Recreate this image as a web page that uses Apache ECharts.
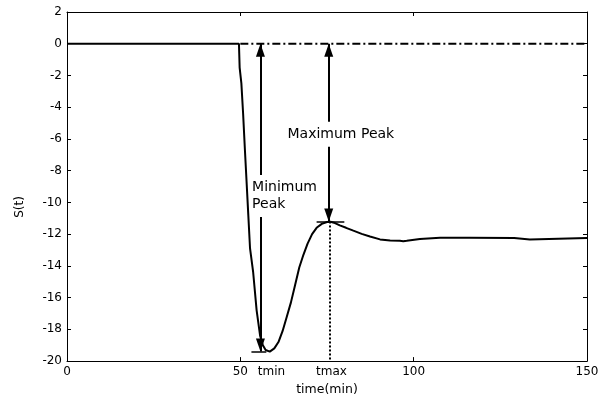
<!DOCTYPE html>
<html>
<head>
<meta charset="utf-8">
<script src="https://cdn.jsdelivr.net/npm/echarts@6/dist/echarts.min.js"></script>
<style>html,body{margin:0;padding:0;background:#fff}#c{width:609px;height:401px}</style>
</head>
<body>
<div id="c"></div>
<script>
// ---- data ----
const timeVals = [0, 49.6, 49.8, 50.3, 50.8, 51.3, 51.8, 52.3, 52.8, 53.7, 54.7, 55.7, 56.5, 57.3, 58.5, 59.8, 61.0, 62.2, 63.4, 64.6, 65.8, 67.0, 68.2, 69.4, 70.7, 72.0, 73.5, 75.0, 76.0, 77.3, 78.7, 80.5, 82.6, 85.0, 87.4, 90.3, 93.2, 96.0, 97.0, 98.0, 101.8, 107.6, 116, 129, 129.5, 133.5, 134, 150];
const sVals = [0, 0, -1.5, -2.5, -4.4, -6.6, -8.7, -10.8, -12.9, -14.4, -16.8, -18.4, -19.0, -19.3, -19.4, -19.2, -18.8, -18.1, -17.2, -16.3, -15.2, -14.1, -13.3, -12.6, -12.0, -11.6, -11.35, -11.23, -11.22, -11.3, -11.45, -11.6, -11.78, -11.98, -12.15, -12.33, -12.4, -12.42, -12.45, -12.42, -12.3, -12.23, -12.22, -12.24, -12.33, -12.33, -12.25, -12.25];
const zeroRef = [[50, 0], [150, 0]];
const minArrow = [[55.8, 0], [55.8, -19.4]];
const maxArrow = [[75.5, 0], [75.5, -11.2]];
const minBar = [[53.2, -19.4], [57.5, -19.4]];
const maxBar = [[72, -11.2], [80, -11.2]];
const tmaxDrop = [[75.7, -11.2], [75.7, -20]];
const peakTexts = [[79, -5.7, 'Maximum Peak'], [53.1, -9.6, 'Minimum\nPeak']];
const timeMarks = [[59, -20, 'tmin'], [76.3, -20, 'tmax']];
const xTicks = {min: 0, max: 150, step: 50};
const yTicks = {min: -20, max: 2, step: 2};

const FONT = 'DejaVu Sans';
const chart = echarts.init(document.getElementById('c'), null, {renderer: 'canvas'});
const axisCommon = {
  type: 'value',
  axisLine: {show: true, onZero: false, lineStyle: {color: '#000', width: 1}},
  axisTick: {show: true, inside: true, length: 4, lineStyle: {color: '#000'}},
  splitLine: {show: false}
};
const pair = (a, b) => a.map((v, i) => [v, b[i]]);
const arrowSym = {symbol: ['triangle', 'triangle'], symbolSize: [9, 13], symbolOffset: [[0, 6.5], [0, 6.5]]};
const plainText = {color: '#000', fontFamily: FONT, textBorderWidth: 0, textBorderColor: 'transparent', opacity: 1};

chart.setOption({
  animation: false,
  backgroundColor: '#fff',
  grid: {left: 67, right: 22, top: 12, bottom: 36},
  xAxis: [
    Object.assign({}, axisCommon, {position: 'bottom', min: xTicks.min, max: xTicks.max, interval: xTicks.step,
      axisLabel: {color: '#000', fontFamily: FONT, fontSize: 12, margin: 5},
      name: 'time(min)', nameLocation: 'middle', nameGap: 19,
      nameTextStyle: {color: '#000', fontFamily: FONT, fontSize: 12.5}}),
    Object.assign({}, axisCommon, {position: 'top', min: xTicks.min, max: xTicks.max, interval: xTicks.step,
      axisLabel: {show: false}})
  ],
  yAxis: [
    Object.assign({}, axisCommon, {position: 'left', min: yTicks.min, max: yTicks.max, interval: yTicks.step,
      axisLabel: {color: '#000', fontFamily: FONT, fontSize: 12, margin: 5}}),
    Object.assign({}, axisCommon, {position: 'right', min: yTicks.min, max: yTicks.max, interval: yTicks.step,
      axisLabel: {show: false}})
  ],
  graphic: [{
    type: 'text', x: 20, y: 207, rotation: Math.PI / 2,
    style: {text: 'S(t)', fill: '#000', font: '12px "DejaVu Sans"', align: 'center', verticalAlign: 'middle'}
  }],
  series: [
    {
      type: 'line', data: pair(timeVals, sVals), symbol: 'none', z: 3,
      lineStyle: {color: '#000', width: 2}
    },
    {
      type: 'line', data: zeroRef, symbol: 'none', z: 2,
      lineStyle: {color: '#000', width: 1.8, type: [8, 3, 2, 3]}
    },
    {
      type: 'line', data: [], z: 4,
      markLine: {
        silent: true, animation: false, label: {show: false},
        lineStyle: {color: '#000', width: 2, type: 'solid'},
        data: [
          [{coord: minArrow[0]}, {coord: minArrow[1]}],
          [{coord: maxArrow[0]}, {coord: maxArrow[1]}]
        ],
        symbol: arrowSym.symbol, symbolSize: arrowSym.symbolSize, symbolOffset: arrowSym.symbolOffset
      }
    },
    {
      type: 'line', data: [], z: 4,
      markLine: {
        silent: true, animation: false, label: {show: false}, symbol: ['none', 'none'],
        lineStyle: {color: '#000', width: 1.5, type: 'solid'},
        data: [
          [{coord: minBar[0]}, {coord: minBar[1]}],
          [{coord: maxBar[0]}, {coord: maxBar[1]}],
          [{coord: tmaxDrop[0], lineStyle: {type: [2, 2], width: 2}}, {coord: tmaxDrop[1]}]
        ]
      }
    },
    {
      type: 'scatter', z: 10, symbolSize: 1, itemStyle: {color: 'rgba(0,0,0,0)'},
      silent: true,
      data: peakTexts.map(p => ({value: [p[0], p[1]], name: p[2]})),
      label: Object.assign({
        show: true, position: 'inside', formatter: p => p.name,
        fontSize: 14, lineHeight: 17, backgroundColor: '#fff', padding: [4, 1]
      }, plainText),
      labelLayout: p => p.dataIndex === 1 ? {align: 'left'} : {}
    },
    {
      type: 'scatter', z: 10, symbolSize: 1, itemStyle: {color: 'rgba(0,0,0,0)'},
      silent: true,
      data: timeMarks.map(p => ({value: [p[0], p[1]], name: p[2]})),
      label: Object.assign({show: true, position: 'bottom', distance: 4, formatter: p => p.name,
        fontSize: 12}, plainText)
    }
  ]
});
</script>
</body>
</html>
